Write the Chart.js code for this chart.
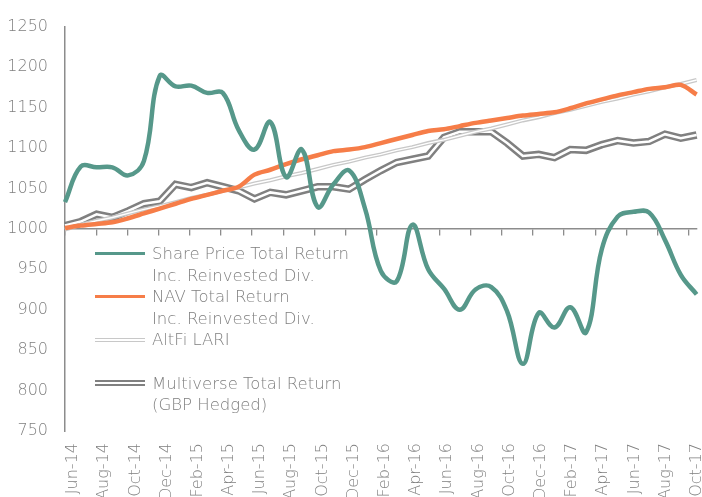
<!DOCTYPE html>
<html>
<head>
<meta charset="utf-8">
<script src="https://cdn.jsdelivr.net/npm/chart.js@4.4.1/dist/chart.umd.min.js"></script>
<style>
    html, body { margin: 0; padding: 0; background: #fff; overflow: hidden; }
    #wrap { position: relative; width: 702px; height: 497px; }
    #legend {
        position: absolute; left: 95px; top: 243px;
        font: 200 16.5px 'DejaVu Sans', sans-serif; color: #7f7f7f;
        line-height: 21.6px;
    }
    .row { display: flex; align-items: center; height: 21.6px; white-space: nowrap; }
    .sw { width: 50px; margin-right: 7px; box-sizing: border-box; flex: none; }
</style>
</head>
<body>
<div id="wrap">
    <canvas id="chart"></canvas>
    <div id="legend"></div>
</div>
<script>
// Monthly points, Jun-14 .. Oct-17
const months = [
    'Jun-14', 'Jul-14', 'Aug-14', 'Sep-14', 'Oct-14', 'Nov-14', 'Dec-14',
    'Jan-15', 'Feb-15', 'Mar-15', 'Apr-15', 'May-15', 'Jun-15', 'Jul-15', 'Aug-15', 'Sep-15', 'Oct-15', 'Nov-15', 'Dec-15',
    'Jan-16', 'Feb-16', 'Mar-16', 'Apr-16', 'May-16', 'Jun-16', 'Jul-16', 'Aug-16', 'Sep-16', 'Oct-16', 'Nov-16', 'Dec-16',
    'Jan-17', 'Feb-17', 'Mar-17', 'Apr-17', 'May-17', 'Jun-17', 'Jul-17', 'Aug-17', 'Sep-17', 'Oct-17'
];

const sharePrice = [
    1033, 1077, 1076, 1076, 1066, 1084, 1189, 1176, 1177, 1168,
    1168, 1122, 1098, 1132, 1064, 1098, 1027, 1055, 1072, 1025,
    948, 935, 1005, 950, 926, 900, 925, 928, 898, 833,
    896, 878, 903, 872, 975, 1015, 1021, 1020, 986, 943,
    919
];

const navReturn = [
    1001, 1004, 1006, 1008, 1013, 1019, 1025, 1031, 1037, 1042,
    1047, 1052, 1067, 1073, 1080, 1086, 1091, 1096, 1098, 1101,
    1106, 1111, 1116, 1121, 1123, 1127, 1131, 1134, 1137, 1140,
    1142, 1144, 1149, 1155, 1160, 1165, 1169, 1173, 1175, 1178,
    1166
];

const altfiLari = [
    999, 1005, 1010, 1014, 1019, 1024, 1028, 1033, 1038, 1042,
    1047, 1051, 1056, 1060, 1065, 1069, 1074, 1079, 1083, 1088,
    1092, 1097, 1101, 1106, 1110, 1115, 1120, 1124, 1129, 1134,
    1138, 1143, 1147, 1152, 1157, 1161, 1166, 1170, 1175, 1179,
    1184
];

const multiverse = [
    1004, 1009, 1018, 1014, 1022, 1031, 1034, 1055, 1051, 1057,
    1052, 1047, 1037, 1045, 1042, 1047, 1052, 1052, 1049, 1061,
    1072, 1082, 1086, 1090, 1113, 1120, 1120, 1120, 1106, 1090,
    1092, 1088, 1098, 1097, 1104, 1109, 1106, 1108, 1117, 1112,
    1116
];

const seriesNames = [
    ['Share Price Total Return', 'Inc. Reinvested Div.'],
    ['NAV Total Return', 'Inc. Reinvested Div.'],
    ['AltFi LARI', ''],
    ['Multiverse Total Return', '(GBP Hedged)'],
];

const TEAL = '#56988a';
const ORANGE = '#f67d48';
const GREY = '#808080';
const LIGHT = '#c8c8c8';
const AXIS = '#8c8c8c';
const TEXT = '#7f7f7f';
const FONT = { family: "'DejaVu Sans', sans-serif", size: 16, weight: 200 };

// month span of the date axis (last point sits half a month past the last tick)
const SPAN = 40.5;

const line = (data, color, width, tension) => ({
    data, borderColor: color, borderWidth: width, tension,
    pointRadius: 0, fill: false, borderJoinStyle: 'miter',
});

new Chart(document.getElementById('chart'), {
    type: 'line',
    data: {
        labels: months,
        datasets: [
            line(sharePrice, TEAL, 4.5, 0.4),
            line(navReturn, ORANGE, 4.5, 0.3),
            line(altfiLari, '#ffffff', 1.4, 0),
            line(altfiLari, LIGHT, 4, 0),
            line(multiverse, '#ffffff', 2.5, 0),
            line(multiverse, GREY, 7.5, 0),
        ]
    },
    options: {
        responsive: true,
        maintainAspectRatio: false,
        animation: false,
        layout: { padding: { top: 23, right: 5.4, bottom: 0, left: 0 } },
        plugins: { legend: { display: false }, tooltip: { enabled: false } },
        scales: {
            x: { type: 'category', display: false, offset: false },
            xl: {
                type: 'linear', axis: 'x', position: 'bottom',
                min: 0, max: SPAN,
                grid: { display: false, drawTicks: false },
                border: { display: false },
                ticks: {
                    stepSize: 2, autoSkip: false, includeBounds: false,
                    minRotation: 90, maxRotation: 90,
                    labelOffset: 8, padding: 12,
                    color: TEXT, font: FONT,
                    callback: (v) => months[v] || '',
                },
                afterFit(scale) {
                    scale.height = 66;
                    scale.paddingLeft = 0;
                    scale.paddingRight = 0;
                }
            },
            xt: {
                type: 'linear', axis: 'x', position: { y: 1000 },
                min: 0, max: SPAN,
                grid: { drawOnChartArea: false, drawTicks: true, tickLength: 6, color: AXIS, lineWidth: 1.3 },
                border: { display: true, color: AXIS, width: 1.5 },
                ticks: { display: false, stepSize: 2, includeBounds: false },
            },
            y: {
                min: 750, max: 1250,
                grid: { display: false, drawTicks: false },
                border: { display: true, color: AXIS, width: 1.5 },
                ticks: {
                    stepSize: 50, padding: 17, color: TEXT, font: FONT,
                    callback: (v) => String(v),
                },
                afterFit(scale) { scale.width = 65; }
            }
        }
    }
});

// legend
const swatches = [
    `height:3px;background:${TEAL}`,
    `height:3px;background:${ORANGE}`,
    `height:4px;border-top:1px solid ${LIGHT};border-bottom:1px solid ${LIGHT}`,
    `height:6px;border-top:2px solid ${GREY};border-bottom:2px solid ${GREY}`,
];
const legend = document.getElementById('legend');
seriesNames.forEach((lines, i) => {
    lines.forEach((txt, j) => {
        const row = document.createElement('div');
        row.className = 'row';
        const sw = document.createElement('div');
        sw.className = 'sw';
        if (j === 0) sw.style.cssText = swatches[i];
        row.appendChild(sw);
        const span = document.createElement('span');
        span.textContent = txt;
        row.appendChild(span);
        legend.appendChild(row);
    });
});
</script>
</body>
</html>
